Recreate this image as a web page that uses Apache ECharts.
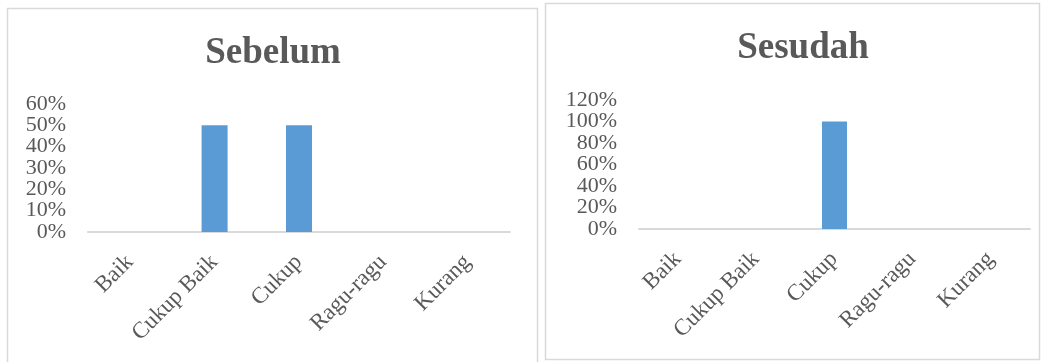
<!DOCTYPE html>
<html>
<head>
<meta charset="utf-8">
<script src="https://cdn.jsdelivr.net/npm/echarts@6/dist/echarts.min.js"></script>
<style>
html,body{margin:0;padding:0;background:#fff;}
#chart{width:1048px;height:362px;}
</style>
</head>
<body>
<div id="chart"></div>
<script>
const categories = ['Baik', 'Cukup Baik', 'Cukup', 'Ragu-ragu', 'Kurang'];
const sebelumValues = [0, 50, 50, 0, 0];
const sesudahValues = [0, 0, 100, 0, 0];
const sebelumTitle = 'Sebelum';
const sesudahTitle = 'Sesudah';
const sebelumTicks = {max: 60, step: 10};
const sesudahTicks = {max: 120, step: 20};

const FONT = '"Liberation Serif", "Times New Roman", serif';
const TXT = '#595959';
const LINE = '#d9d9d9';
const BAR = '#5b9bd5';

const chart = echarts.init(document.getElementById('chart'), null, {renderer: 'canvas'});

// plot area (value 0 .. max) in pixels
const plot0 = {left: 88, right: 538, top: 104, bottom: 232};
const plot1 = {left: 639, right: 18, top: 100, bottom: 229};
function stepPx(p, t) { return (p.bottom - p.top) * t.step / t.max; }
function grid(p, t) {
  const h = p.bottom - p.top;
  const s = stepPx(p, t);
  return {left: p.left, right: p.right, top: p.top - s, height: h + 2 * s,
          outerBoundsMode: 'none', containLabel: false};
}

function xAxis(gridIndex, p, t) {
  return {
    type: 'category', gridIndex, data: categories,
    offset: -stepPx(p, t),
    axisLine: {show: true, onZero: false, lineStyle: {color: LINE, width: 2}},
    axisTick: {show: false},
    axisLabel: {rotate: 45, margin: 10, verticalAlign: 'top', align: 'right', padding: [0, 12, 0, 0],
      fontFamily: FONT, fontSize: 23, color: TXT, interval: 0}
  };
}
// one hidden step is added on each side so that every visible tick label is kept
function yAxis(gridIndex, t) {
  return {
    type: 'value', gridIndex, min: -t.step, max: t.max + t.step, interval: t.step,
    axisLine: {show: false}, axisTick: {show: false}, splitLine: {show: false},
    axisLabel: {margin: 22, fontFamily: FONT, fontSize: 22, color: TXT,
      formatter: v => (v < 0 || v > t.max) ? '' : v + '%'}
  };
}

chart.setOption({
  animation: false,
  title: [
    {text: sebelumTitle, left: 268, top: 30, textAlign: 'center',
     textStyle: {fontFamily: FONT, fontSize: 37, fontWeight: 'bold', color: TXT}},
    {text: sesudahTitle, left: 798, top: 25, textAlign: 'center',
     textStyle: {fontFamily: FONT, fontSize: 37, fontWeight: 'bold', color: TXT}}
  ],
  graphic: [
    {type: 'rect', shape: {x: 7.5, y: 8.5, width: 530, height: 360}, style: {fill: 'none', stroke: LINE, lineWidth: 1.5}},
    {type: 'rect', shape: {x: 545.5, y: 3.5, width: 494, height: 356}, style: {fill: 'none', stroke: LINE, lineWidth: 1.5}}
  ],
  grid: [grid(plot0, sebelumTicks), grid(plot1, sesudahTicks)],
  xAxis: [xAxis(0, plot0, sebelumTicks), xAxis(1, plot1, sesudahTicks)],
  yAxis: [yAxis(0, sebelumTicks), yAxis(1, sesudahTicks)],
  series: [
    {type: 'bar', xAxisIndex: 0, yAxisIndex: 0, data: sebelumValues, barWidth: 26, itemStyle: {color: BAR}},
    {type: 'bar', xAxisIndex: 1, yAxisIndex: 1, data: sesudahValues, barWidth: 25, itemStyle: {color: BAR}}
  ]
});
</script>
</body>
</html>
